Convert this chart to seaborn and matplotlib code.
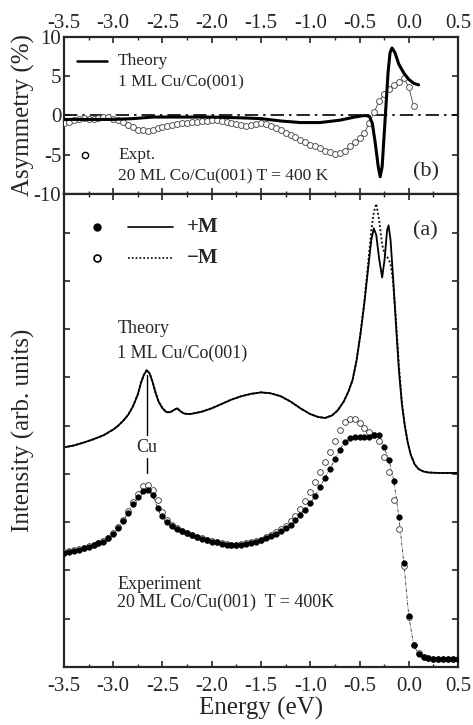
import numpy as np
import pandas as pd
import seaborn as sns
import matplotlib.pyplot as plt
from matplotlib.ticker import MultipleLocator, FormatStrFormatter

# ---- theory spectra (1 ML Cu/Co(001)) ----
theory_x = [-3.50, -3.40, -3.30, -3.20, -3.10, -3.00, -2.95, -2.90, -2.85, -2.80,
            -2.75, -2.72, -2.69, -2.66, -2.63, -2.60, -2.57, -2.54, -2.50, -2.46,
            -2.42, -2.38, -2.35, -2.32, -2.28, -2.22, -2.10, -2.00, -1.90, -1.80,
            -1.70, -1.60, -1.50, -1.40, -1.30, -1.20, -1.10, -1.00, -0.92, -0.85,
            -0.78, -0.72, -0.66, -0.61, -0.57, -0.53, -0.49, -0.45, -0.41, -0.38,
            -0.355, -0.33, -0.30, -0.27, -0.245, -0.22, -0.205, -0.185, -0.16, -0.13,
            -0.10, -0.07, -0.04, -0.01, 0.02, 0.06, 0.10, 0.15, 0.20, 0.30,
            0.40, 0.50]
theory_plus = [4.55, 4.59, 4.65, 4.72, 4.80, 4.92, 5.00, 5.10, 5.22, 5.40,
               5.65, 5.88, 6.05, 6.15, 6.08, 5.90, 5.68, 5.50, 5.36, 5.28,
               5.28, 5.33, 5.36, 5.30, 5.25, 5.24, 5.29, 5.36, 5.45, 5.54,
               5.61, 5.66, 5.69, 5.67, 5.61, 5.50, 5.36, 5.24, 5.18, 5.16,
               5.21, 5.32, 5.50, 5.72, 5.95, 6.35, 6.90, 7.55, 8.30, 8.85,
               9.09, 8.95, 8.45, 8.07, 8.45, 9.05, 9.15, 8.85, 8.10, 7.10,
               6.15, 5.45, 5.00, 4.65, 4.40, 4.20, 4.10, 4.05, 4.03, 4.02,
               4.02, 4.02]
theory_minus = [4.55, 4.59, 4.65, 4.72, 4.80, 4.92, 5.00, 5.10, 5.22, 5.40,
                5.65, 5.88, 6.05, 6.15, 6.08, 5.90, 5.68, 5.50, 5.36, 5.28,
                5.28, 5.33, 5.36, 5.30, 5.25, 5.24, 5.29, 5.36, 5.45, 5.54,
                5.61, 5.66, 5.69, 5.67, 5.61, 5.50, 5.36, 5.24, 5.18, 5.16,
                5.21, 5.32, 5.50, 5.72, 5.95, 6.35, 6.92, 7.60, 8.42, 9.05,
                9.42, 9.60, 9.25, 8.75, 8.55, 8.50, 8.45, 8.35, 8.00, 7.20,
                6.25, 5.50, 5.00, 4.65, 4.40, 4.20, 4.10, 4.05, 4.03, 4.02,
                4.02, 4.02]

# ---- experiment spectra (20 ML Co/Cu(001), T = 400 K), step 0.05 eV ----
expt_x = np.round(np.linspace(-3.5, 0.5, 81), 2)
expt_plus = [2.36, 2.38, 2.41, 2.43, 2.46, 2.49, 2.52, 2.56, 2.60, 2.67,
             2.76, 2.88, 3.03, 3.20, 3.37, 3.52, 3.64, 3.66, 3.56, 3.30,
             3.12, 3.00, 2.92, 2.86, 2.81, 2.77, 2.73, 2.70, 2.66, 2.63,
             2.60, 2.58, 2.55, 2.53, 2.52, 2.52, 2.53, 2.55, 2.57, 2.60,
             2.63, 2.67, 2.71, 2.76, 2.81, 2.87, 2.95, 3.05, 3.15, 3.26,
             3.39, 3.55, 3.73, 3.92, 4.10, 4.30, 4.50, 4.66, 4.74, 4.77,
             4.77, 4.76, 4.77, 4.80, 4.80, 4.55, 4.28, 3.85, 3.10, 2.15,
             1.06, 0.45, 0.27, 0.21, 0.19, 0.17, 0.17, 0.17, 0.17, 0.17,
             0.17]
expt_minus = [2.38, 2.40, 2.42, 2.44, 2.47, 2.50, 2.53, 2.57, 2.61, 2.68,
              2.77, 2.90, 3.05, 3.23, 3.42, 3.58, 3.74, 3.78, 3.66, 3.45,
              3.22, 3.05, 2.94, 2.87, 2.82, 2.78, 2.74, 2.70, 2.67, 2.64,
              2.61, 2.58, 2.56, 2.54, 2.53, 2.53, 2.54, 2.56, 2.58, 2.61,
              2.64, 2.69, 2.74, 2.79, 2.86, 2.93, 3.02, 3.13, 3.27, 3.43,
              3.62, 3.83, 4.03, 4.24, 4.45, 4.68, 4.92, 5.07, 5.14, 5.13,
              5.05, 4.95, 4.87, 4.80, 4.68, 4.35, 4.05, 3.45, 2.85, 2.10,
              1.04, 0.45, 0.28, 0.21, 0.19, 0.17, 0.17, 0.17, 0.17, 0.17,
              0.17]

# ---- asymmetry (%) ----
asym_theory = [-0.5, -0.5, -0.5, -0.4, -0.2, -0.2, -0.2, -0.3, -0.4, -0.7,
               -0.9, -0.9, -0.6, -0.2, 0.0, -0.1, -1.0, -3.5, -6.5, -7.8,
               -6.5, -2.5, 1.5, 5.5, 8.0, 8.6, 8.0, 6.5, 5.4, 4.6,
               4.1, 3.9]
asym_theory_x = [-3.5, -3.2, -3.0, -2.8, -2.6, -2.3, -2.0, -1.7, -1.5, -1.3,
                 -1.1, -0.9, -0.7, -0.55, -0.45, -0.40, -0.37, -0.34, -0.31, -0.29,
                 -0.27, -0.25, -0.23, -0.21, -0.19, -0.17, -0.14, -0.10, -0.05, 0.0,
                 0.05, 0.10]
asym_expt_x = np.round(np.linspace(-3.5, 0.05, 72), 2)
asym_expt = [-1.0, -0.8, -0.6, -0.5, -0.3, -0.4, -0.5, -0.3, -0.2, -0.2,
             -0.4, -0.6, -0.8, -1.2, -1.5, -1.8, -1.9, -2.0, -1.8, -1.6,
             -1.5, -1.4, -1.2, -1.1, -1.0, -0.9, -0.8, -0.8, -0.7, -0.7,
             -0.6, -0.6, -0.7, -0.8, -0.9, -1.1, -1.2, -1.3, -1.2, -1.1,
             -1.0, -1.1, -1.3, -1.6, -1.9, -2.2, -2.5, -2.8, -3.1, -3.4,
             -3.7, -3.9, -4.2, -4.5, -4.7, -4.9, -4.8, -4.5, -3.9, -3.4,
             -2.9, -2.2, -1.0, 0.5, 1.8, 2.8, 3.4, 3.9, 4.3, 4.8,
             3.6, 1.2]

sns.set_theme(style="ticks")
plt.rcParams['font.family'] = ['Liberation Serif', 'DejaVu Serif']
plt.rcParams['axes.unicode_minus'] = False
plt.rcParams['axes.linewidth'] = 1.6

fig = plt.figure(figsize=(4.73, 7.25), dpi=100)
ax_b = fig.add_axes([0.1353, 0.7324, 0.833, 0.2166])
ax_a = fig.add_axes([0.1353, 0.08, 0.833, 0.6524])

df_th = pd.DataFrame({"x": theory_x, "plus": theory_plus, "minus": theory_minus})
df_ex = pd.DataFrame({"x": expt_x, "plus": expt_plus, "minus": expt_minus})
df_at = pd.DataFrame({"x": asym_theory_x, "y": asym_theory})
df_ae = pd.DataFrame({"x": asym_expt_x, "y": asym_expt})

# ---------- panel (b): asymmetry ----------
ax_b.axhline(0, color="black", lw=1.2, ls=(0, (8, 3, 1.5, 3)))
sns.lineplot(data=df_ae, x="x", y="y", ax=ax_b, color="#444444", lw=0.6,
             sort=False, estimator=None)
sns.scatterplot(data=df_ae, x="x", y="y", ax=ax_b, s=18, facecolor="white",
                edgecolor="#555555", linewidth=0.7, zorder=3)
sns.lineplot(data=df_at, x="x", y="y", ax=ax_b, color="black", lw=2.2,
             sort=False, estimator=None, zorder=4)

ax_b.set_xlim(-3.5, 0.5)
ax_b.set_ylim(-10, 10)
ax_b.set_yticks([-10, -5, 0, 5, 10])
ax_b.xaxis.set_major_locator(MultipleLocator(0.5))
ax_b.xaxis.set_minor_locator(MultipleLocator(0.25))
ax_b.xaxis.set_major_formatter(FormatStrFormatter('%.1f'))
ax_b.tick_params(axis='x', which='both', direction='in', top=True, bottom=True,
                 labeltop=True, labelbottom=False, labelsize=15, pad=3)
ax_b.tick_params(axis='y', which='both', direction='in', left=True, right=True,
                 labelsize=15, pad=2)
ax_b.tick_params(which='major', length=4, width=1.2)
ax_b.tick_params(which='minor', length=2, width=1.0)
ax_b.set_xlabel("")
ax_b.set_ylabel("Asymmetry (%)", fontsize=18)
ax_b.yaxis.set_label_coords(-0.074, 0.5)

ax_b.plot([-3.37, -3.06], [6.9, 6.9], color="black", lw=1.8)
ax_b.text(-2.95, 6.9, "Theory", fontsize=12.5, va="center")
ax_b.text(-2.95, 4.27, "1 ML Cu/Co(001)", fontsize=12.5, va="center")
ax_b.plot([-3.29], [-5.0], marker="o", ms=4.5, mfc="white", mec="black", mew=1.0)
ax_b.text(-2.95, -5.0, "Expt.", fontsize=12.5, va="center")
ax_b.text(-2.95, -7.7, "20 ML Co/Cu(001) T = 400 K", fontsize=12.5, va="center")
ax_b.text(0.175, -7.2, "(b)", fontsize=16, va="center", ha="center")

# ---------- panel (a): intensity ----------
sns.lineplot(data=df_ex, x="x", y="plus", ax=ax_a, color="#333333", lw=0.6,
             ls=(0, (4, 1.5, 1, 1.5)), sort=False, estimator=None)
sns.scatterplot(data=df_ex, x="x", y="minus", ax=ax_a, s=17, facecolor="white",
                edgecolor="#333333", linewidth=0.6, zorder=3)
sns.scatterplot(data=df_ex, x="x", y="plus", ax=ax_a, s=17, color="black",
                edgecolor="black", linewidth=0.3, zorder=4)
sns.lineplot(data=df_th, x="x", y="minus", ax=ax_a, color="black", lw=1.3,
             ls=(0, (1, 1.3)), sort=False, estimator=None)
sns.lineplot(data=df_th, x="x", y="plus", ax=ax_a, color="black", lw=1.3,
             sort=False, estimator=None)

ax_a.set_xlim(-3.5, 0.5)
ax_a.set_ylim(0, 9.8)
ax_a.yaxis.set_major_locator(MultipleLocator(1))
ax_a.xaxis.set_major_locator(MultipleLocator(0.5))
ax_a.xaxis.set_minor_locator(MultipleLocator(0.25))
ax_a.xaxis.set_major_formatter(FormatStrFormatter('%.1f'))
ax_a.tick_params(axis='x', which='both', direction='in', top=True, bottom=True,
                 labelsize=15, pad=7)
ax_a.tick_params(axis='y', which='both', direction='in', left=True, right=True,
                 labelleft=False)
ax_a.tick_params(which='major', length=4, width=1.2)
ax_a.tick_params(which='minor', length=2, width=1.0)
ax_a.set_xlabel("Energy (eV)", fontsize=18, labelpad=1)
ax_a.set_ylabel("Intensity (arb. units)", fontsize=18)
ax_a.yaxis.set_label_coords(-0.074, 0.5)

ax_a.plot([-3.165], [9.11], marker="o", ms=5, color="black")
ax_a.plot([-2.85, -2.39], [9.11, 9.11], color="black", lw=1.2)
ax_a.text(-2.25, 9.11, "+M", fontsize=15, fontweight="bold", va="center")
ax_a.plot([-3.165], [8.47], marker="o", ms=5, mfc="white", mec="black", mew=1.2)
ax_a.plot([-2.85, -2.39], [8.47, 8.47], color="black", lw=1.2, ls=(0, (1, 1.3)))
ax_a.text(-2.25, 8.47, "\u2212M", fontsize=15, fontweight="bold", va="center")
ax_a.text(0.165, 9.03, "(a)", fontsize=16, va="center", ha="center")
ax_a.text(-2.96, 7.02, "Theory", fontsize=13, va="center")
ax_a.text(-2.96, 6.50, "1 ML Cu/Co(001)", fontsize=13, va="center")
ax_a.plot([-2.66, -2.66], [6.05, 4.8], color="black", lw=1.0)
ax_a.text(-2.66, 4.55, "Cu", fontsize=13, va="center", ha="center")
ax_a.plot([-2.66, -2.66], [4.33, 4.02], color="black", lw=1.0)
ax_a.text(-2.96, 1.70, "Experiment", fontsize=13, va="center")
ax_a.text(-2.96, 1.33, "20 ML Co/Cu(001)  T = 400K", fontsize=13, va="center")

fig.savefig("out.png", dpi=100)
